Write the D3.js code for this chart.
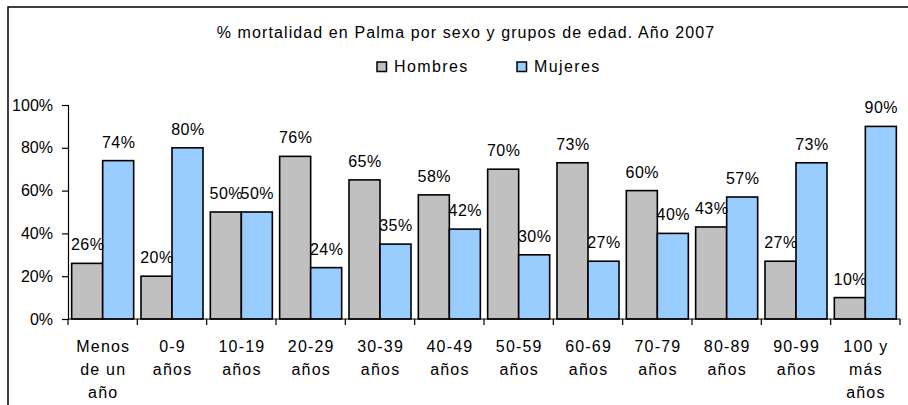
<!DOCTYPE html>
<html>
<head>
<meta charset="utf-8">
<script src="https://cdn.jsdelivr.net/npm/d3@7"></script>
<style>
  html, body { margin: 0; padding: 0; background: #fff; }
  svg { display: block; font-family: "Liberation Sans", Arial, sans-serif; }
</style>
</head>
<body>
<svg id="chart" width="908" height="405"></svg>
<script>
const title = "% mortalidad en Palma por sexo y grupos de edad. Año 2007";
const categories = [
  ["Menos", "de un", "año"],
  ["0-9", "años"],
  ["10-19", "años"],
  ["20-29", "años"],
  ["30-39", "años"],
  ["40-49", "años"],
  ["50-59", "años"],
  ["60-69", "años"],
  ["70-79", "años"],
  ["80-89", "años"],
  ["90-99", "años"],
  ["100 y", "más", "años"]
];
const seriesNames = ["Hombres", "Mujeres"];
const hombres = [26, 20, 50, 76, 65, 58, 70, 73, 60, 43, 27, 10];
const mujeres = [74, 80, 50, 24, 35, 42, 30, 27, 40, 57, 73, 90];
const yTicks = [0, 20, 40, 60, 80, 100];
const colors = ["#c0c0c0", "#99ccff"];

const svg = d3.select("#chart");
const W = 908, H = 405;
const mLeft = 68, mRight = 900, mTop = 105, mBottom = 319;

// outer frame (cut off at right and bottom like the reference)
svg.append("rect")
  .attr("x", 8).attr("y", 7)
  .attr("width", W + 20).attr("height", H + 20)
  .attr("fill", "none").attr("stroke", "#000").attr("stroke-width", 1.5);

// title
svg.append("text")
  .attr("x", 466).attr("y", 38)
  .attr("text-anchor", "middle")
  .attr("font-size", 16)
  .attr("letter-spacing", 1.1)
  .text(title);

const keys = categories.map((c, i) => i);
const x0 = d3.scaleBand().domain(keys).range([mLeft, mRight]).padding(0);
const x1 = d3.scaleBand().domain(seriesNames).range([0, x0.bandwidth()])
  .paddingInner(0).paddingOuter(0.118);
const y = d3.scaleLinear().domain([0, 100]).range([mBottom, mTop]);

const data = keys.map(i => ({ i, vals: [hombres[i], mujeres[i]] }));

// bars
const g = svg.append("g");
const groups = g.selectAll("g.grp").data(data).enter().append("g")
  .attr("transform", d => `translate(${x0(d.i)},0)`);
groups.selectAll("rect").data(d => d.vals.map((v, k) => ({ v, k })))
  .enter().append("rect")
  .attr("x", d => x1(seriesNames[d.k]))
  .attr("y", d => y(d.v))
  .attr("width", x1.bandwidth())
  .attr("height", d => y(0) - y(d.v))
  .attr("fill", d => colors[d.k])
  .attr("stroke", "#000")
  .attr("stroke-width", 1.6);

// value labels
groups.selectAll("text.val").data(d => d.vals.map((v, k) => ({ v, k })))
  .enter().append("text")
  .attr("class", "val")
  .attr("x", d => x1(seriesNames[d.k]) + x1.bandwidth() / 2 + 0.5)
  .attr("y", d => y(d.v) - 13)
  .attr("text-anchor", "middle")
  .attr("font-size", 16)
  .attr("letter-spacing", 0.5)
  .text(d => d.v + "%");

// y axis
const yAxis = d3.axisLeft(y).tickValues(yTicks).tickSize(6).tickPadding(9)
  .tickFormat(d => d + "%");
const ya = svg.append("g").attr("transform", `translate(${mLeft},0)`).call(yAxis);
ya.select(".domain").attr("stroke", "#000").attr("stroke-width", 1.2);
ya.selectAll(".tick line").attr("stroke", "#000").attr("stroke-width", 1.2);
ya.selectAll(".tick text").attr("font-size", 16).attr("fill", "#000")
  .attr("font-family", "Liberation Sans, Arial, sans-serif");

// x axis (ticks between categories)
const xEdge = d3.scaleLinear().domain([0, categories.length]).range([mLeft, mRight]);
const xa = svg.append("g");
xa.append("line").attr("x1", mLeft).attr("x2", mRight)
  .attr("y1", mBottom).attr("y2", mBottom)
  .attr("stroke", "#000").attr("stroke-width", 1.2);
xa.selectAll("line.tk").data(d3.range(categories.length + 1)).enter().append("line")
  .attr("x1", d => xEdge(d)).attr("x2", d => xEdge(d))
  .attr("y1", mBottom).attr("y2", mBottom + 6)
  .attr("stroke", "#000").attr("stroke-width", 1.2);
const xl = xa.selectAll("text.cat").data(keys).enter().append("text")
  .attr("class", "cat")
  .attr("text-anchor", "middle")
  .attr("font-size", 16)
  .attr("letter-spacing", 1.2)
  .attr("x", i => x0(i) + x0.bandwidth() / 2)
  .attr("y", 352);
xl.selectAll("tspan").data(i => categories[i].map(t => ({ t, x: x0(i) + x0.bandwidth() / 2 + 0.6 })))
  .enter().append("tspan")
  .attr("x", d => d.x)
  .attr("dy", (d, j) => j === 0 ? 0 : 23)
  .text(d => d.t);

// legend
const legX = [377, 517];
const leg = svg.append("g");
seriesNames.forEach((s, k) => {
  leg.append("rect")
    .attr("x", legX[k]).attr("y", 62)
    .attr("width", 9.5).attr("height", 9.5)
    .attr("fill", colors[k]).attr("stroke", "#000").attr("stroke-width", 1.5);
  leg.append("text")
    .attr("x", legX[k] + 17).attr("y", 72)
    .attr("font-size", 16)
    .attr("letter-spacing", 1.4)
    .text(s);
});
</script>
</body>
</html>
